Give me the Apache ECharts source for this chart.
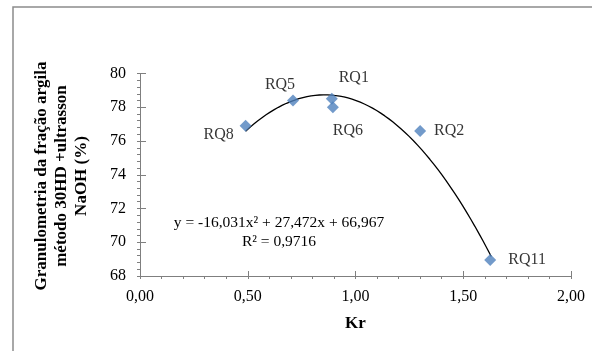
<!DOCTYPE html>
<html>
<head>
<meta charset="utf-8">
<script src="https://cdn.jsdelivr.net/npm/echarts@6/dist/echarts.min.js"></script>
<style>
html,body{margin:0;padding:0;background:#fff;}
#chart{width:592px;height:351px;}
</style>
</head>
<body>
<div id="chart"></div>
<script>
// ---- data ----
const sampleNames = ['RQ8', 'RQ5', 'RQ1', 'RQ6', 'RQ2', 'RQ11'];
const krValues    = [0.49, 0.71, 0.89, 0.895, 1.30, 1.625];
const granValues  = [76.9, 78.4, 78.5, 78.0, 76.6, 68.95];
// trendline coefficients shown in the chart: y = a x^2 + b x + c
const trendA = -16.031, trendB = 27.472, trendC = 66.967;
const trendRange = [0.49, 1.63];
const equationText = 'y = -16,031x² + 27,472x + 66,967\nR² = 0,9716';
const yTitle = 'Granulometria da fração argila\nmétodo 30HD +ultrasson\nNaOH (%)';
const xTitle = 'Kr';
// label offsets (px) relative to each marker
const labelOffsets = [[-27, 9], [-13, -16], [22, -21], [15, 24], [29, 0], [37, 0]];

const trendPts = [];
for (let i = 0; i <= 60; i++) {
  const x = trendRange[0] + (trendRange[1] - trendRange[0]) * i / 60;
  trendPts.push([x, trendA * x * x + trendB * x + trendC]);
}

const serif = '"Liberation Serif", "Times New Roman", serif';
const axisGray = '#7f7f7f';

const chart = echarts.init(document.getElementById('chart'));
const fmtX = v => v.toFixed(2).replace('.', ',');

chart.setOption({
  animation: false,
  backgroundColor: '#fff',
  grid: { left: 140, right: 21, top: 73.5, bottom: 75 },
  xAxis: [{
    type: 'value', min: 0, max: 2, interval: 0.5,
    axisLine: { show: true, lineStyle: { color: axisGray, width: 1 } },
    axisTick: { show: true, inside: false, length: 3, lineStyle: { color: axisGray } },
    minorTick: { show: true, splitNumber: 5, length: 3, lineStyle: { color: axisGray } },
    splitLine: { show: false },
    axisLabel: { formatter: fmtX, color: '#000', fontFamily: serif, fontSize: 16, margin: 13 },
    name: xTitle, nameLocation: 'middle', nameGap: 39,
    nameTextStyle: { fontFamily: serif, fontSize: 17, fontWeight: 'bold', color: '#000' }
  }, {
    type: 'value', min: 0, max: 2, interval: 0.5, position: 'bottom',
    axisLine: { show: false },
    axisTick: { show: true, inside: true, length: 5, lineStyle: { color: axisGray } },
    splitLine: { show: false }, axisLabel: { show: false }
  }],
  yAxis: [{
    type: 'value', min: 68, max: 80, interval: 2,
    axisLine: { show: true, lineStyle: { color: axisGray, width: 1 } },
    axisTick: { show: true, inside: false, length: 3, lineStyle: { color: axisGray } },
    minorTick: { show: true, splitNumber: 5, length: 3, lineStyle: { color: axisGray } },
    splitLine: { show: false },
    axisLabel: { color: '#000', fontFamily: serif, fontSize: 16, margin: 14 }
  }, {
    type: 'value', min: 68, max: 80, interval: 2, position: 'left',
    axisLine: { show: false },
    axisTick: { show: true, inside: true, length: 6, lineStyle: { color: axisGray } },
    splitLine: { show: false }, axisLabel: { show: false }
  }],
  graphic: [
    { type: 'rect', shape: { x: 13, y: 7, width: 700, height: 500 },
      style: { fill: 'none', stroke: '#8c8c8c', lineWidth: 1.5 }, z: -10 },
    { type: 'text', x: 62, y: 176, rotation: Math.PI / 2,
      style: { text: yTitle, align: 'center', verticalAlign: 'middle',
               font: 'bold 17px ' + serif, lineHeight: 20, fill: '#000' } },
    { type: 'text', x: 279, y: 232,
      style: { text: equationText, align: 'center', verticalAlign: 'middle',
               font: '15.5px ' + serif, lineHeight: 19, fill: '#000' } }
  ],
  series: [{
    type: 'line', data: trendPts, showSymbol: false, symbol: 'none',
    lineStyle: { color: '#000', width: 1.3 }, z: 2, silent: true
  }, {
    type: 'scatter', symbol: 'diamond', symbolSize: 12,
    itemStyle: { color: '#4F81BD' }, z: 3,
    data: krValues.map((x, i) => ({
      value: [x, granValues[i]],
      label: { show: true, formatter: sampleNames[i], position: 'inside',
               offset: labelOffsets[i], color: '#000', fontFamily: serif, fontSize: 16 }
    }))
  }]
});
</script>
</body>
</html>
